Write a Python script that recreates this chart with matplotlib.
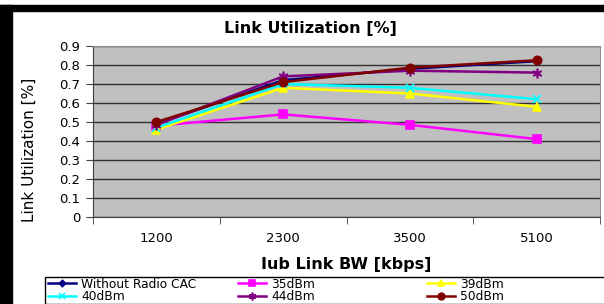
import matplotlib
matplotlib.use("Agg")
import matplotlib.pyplot as plt
from matplotlib.patches import Rectangle

plt.rcParams["font.family"] = ["DejaVu Sans"]

bandwidths = ["1200", "2300", "3500", "5100"]
series_names = ["Without Radio CAC", "35dBm", "39dBm", "40dBm", "44dBm", "50dBm"]
no_cac = [0.49, 0.72, 0.78, 0.82]
dbm35 = [0.48, 0.54, 0.485, 0.41]
dbm39 = [0.46, 0.68, 0.65, 0.58]
dbm40 = [0.47, 0.70, 0.68, 0.62]
dbm44 = [0.485, 0.74, 0.77, 0.76]
dbm50 = [0.50, 0.71, 0.786, 0.825]

series = [no_cac, dbm35, dbm39, dbm40, dbm44, dbm50]
colors = ["#000080", "#FF00FF", "#FFFF00", "#00FFFF", "#800080", "#800000"]
markers = ["D", "s", "^", "x", (6, 2, 0), "o"]
msizes = [4, 6, 6, 6, 7, 6]

W, H = 604, 304
fig = plt.figure(figsize=(W / 100, H / 100), dpi=100)
fig.patch.set_facecolor("white")

# black frame pieces at top/left like the screenshot
fig.patches.append(Rectangle((0, 1 - 11 / H), 1, 6 / H, transform=fig.transFigure,
                             color="black", zorder=0))
fig.patches.append(Rectangle((0, 0), 12 / W, 1 - 5 / H, transform=fig.transFigure,
                             color="black", zorder=0))

ax = fig.add_axes([93 / W, 1 - 217 / H, (600 - 93) / W, (217 - 46) / H])
ax.set_facecolor("#C0C0C0")

x = list(range(len(bandwidths)))
handles = []
for name, vals, c, m, ms in zip(series_names, series, colors, markers, msizes):
    (h,) = ax.plot(x, vals, color=c, marker=m, markersize=ms, lw=1.8,
                   markeredgecolor=c, markeredgewidth=1.2, label=name, zorder=3)
    handles.append(h)

ax.set_xlim(-0.5, len(bandwidths) - 0.5)
ax.set_ylim(0, 0.9)
yt = [i / 10 for i in range(10)]
ax.set_yticks(yt)
ax.set_yticklabels(["0"] + [f"{v:.1f}" for v in yt[1:]])
ax.yaxis.grid(True, color="#303030", lw=1.0)
ax.set_axisbelow(True)

ax.set_xticks(x)
ax.set_xticklabels(bandwidths)
ax.set_xticks([i - 0.5 for i in range(len(bandwidths) + 1)], minor=True)
ax.tick_params(axis="x", which="major", length=0, pad=11, labelsize=9.5)
ax.tick_params(axis="x", which="minor", length=5, color="#404040")
ax.tick_params(axis="y", length=5, labelsize=9.5, color="#404040", pad=4)

for s in ["top", "right"]:
    ax.spines[s].set_color("#909090")
for s in ["left", "bottom"]:
    ax.spines[s].set_color("#404040")

fig.text(310 / W, 1 - 29 / H, "Link Utilization [%]", ha="center", va="center",
         fontsize=11.5, fontweight="bold")
ax.set_xlabel("Iub Link BW [kbps]", fontsize=11.5, fontweight="bold")
ax.xaxis.set_label_coords(0.5, -(257 - 217) / 171)
ax.set_ylabel("Link Utilization [%]", fontsize=11)
ax.yaxis.set_label_coords(-(93 - 37) / 507, (217 - 150) / 171)

# legend: box plus three columns
fig.patches.append(Rectangle((45 / W, 1 - 304 / H), 600 / W, 27 / H,
                             transform=fig.transFigure, facecolor="white",
                             edgecolor="black", lw=1.0, zorder=1))
col_x = [48, 238, 427]
for j, cx in enumerate(col_x):
    fig.legend(handles=[handles[j], handles[j + 3]], loc="upper left",
               bbox_to_anchor=(cx / W, 1 - 277.5 / H), frameon=False,
               fontsize=8.8, handlelength=2.3, handletextpad=0.4,
               borderpad=0.0, labelspacing=0.0, borderaxespad=0,
               markerscale=0.8)

fig.savefig("out.png", dpi=100)
